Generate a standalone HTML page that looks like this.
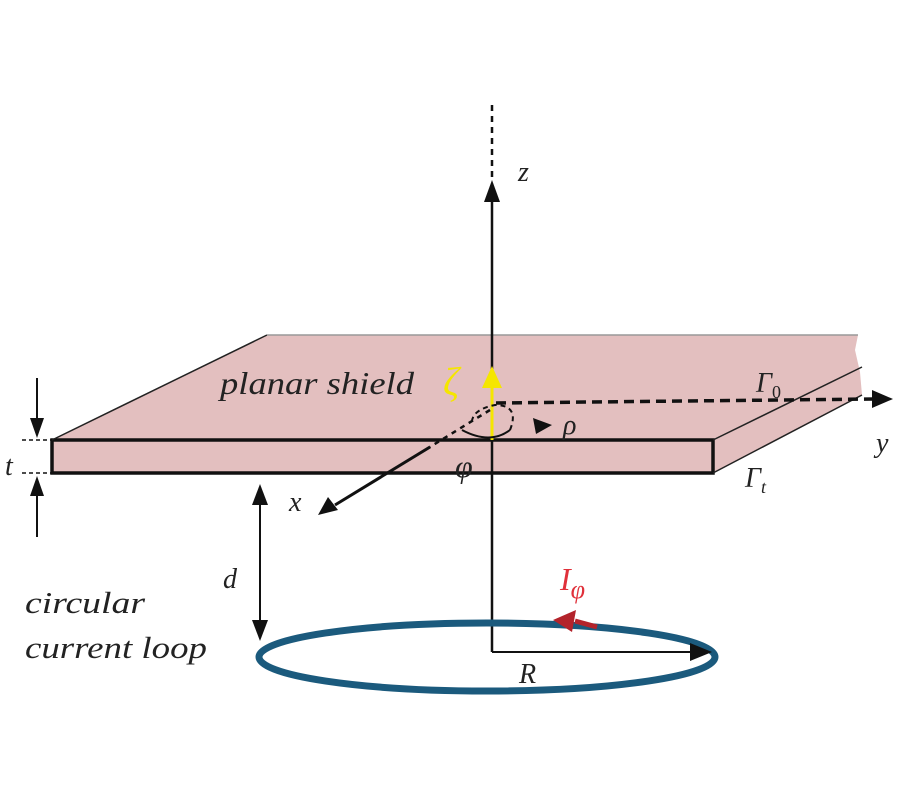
<!DOCTYPE html>
<html><head><style>body{margin:0;background:#fff}svg{display:block}</style></head><body>
<svg width="900" height="800" viewBox="0 0 900 800" xmlns="http://www.w3.org/2000/svg" font-family="Liberation Serif, serif" font-style="italic">
<!-- slab -->
<polygon points="52,440 267,335 858,335 855,350 860,372 862,395 713,473 713,440" fill="#e3bfbf" stroke="none"/>
<rect x="52" y="440" width="661" height="33" fill="#e3bfbf" stroke="#111" stroke-width="3.5"/>
<line x1="52" y1="440" x2="267" y2="335" stroke="#222" stroke-width="1.5"/>
<line x1="267" y1="335" x2="858" y2="335" stroke="#999" stroke-width="1.5"/>
<line x1="713" y1="440" x2="862" y2="367" stroke="#222" stroke-width="1.5"/>
<line x1="713" y1="473" x2="862" y2="395" stroke="#222" stroke-width="1.5"/>
<!-- z axis -->
<line x1="492" y1="105" x2="492" y2="180" stroke="#111" stroke-width="2.5" stroke-dasharray="6,5"/>
<line x1="492" y1="200" x2="492" y2="652" stroke="#111" stroke-width="2.5"/>
<polygon points="492,180 484,202 500,202" fill="#111"/>
<!-- yellow -->
<line x1="492" y1="440" x2="492" y2="385" stroke="#f5e600" stroke-width="3"/>
<polygon points="492,366 482,388 502,388" fill="#f5e600"/>
<!-- y axis -->
<line x1="496" y1="403" x2="875" y2="399" stroke="#111" stroke-width="3.5" stroke-dasharray="10,6"/>
<polygon points="893,399 872,390 872,408" fill="#111"/>
<!-- x axis -->
<line x1="490" y1="410" x2="430" y2="447" stroke="#111" stroke-width="2.5" stroke-dasharray="5,5"/>
<line x1="430" y1="447" x2="335" y2="505" stroke="#111" stroke-width="3"/>
<polygon points="318,515 328,497 338,510" fill="#111"/>
<!-- phi arc -->
<path d="M462,430 Q490,445 510,430" fill="none" stroke="#111" stroke-width="2"/>
<path d="M510,430 Q520,405 495,405 Q470,410 472,425" fill="none" stroke="#111" stroke-width="2" stroke-dasharray="5,4"/>
<polygon points="552,425 533,418 536,434" fill="#111"/>
<!-- t dims -->
<line x1="37" y1="378" x2="37" y2="420" stroke="#111" stroke-width="2"/>
<polygon points="37,438 30,418 44,418" fill="#111"/>
<line x1="37" y1="495" x2="37" y2="537" stroke="#111" stroke-width="2"/>
<polygon points="37,476 30,496 44,496" fill="#111"/>
<line x1="22" y1="440" x2="52" y2="440" stroke="#111" stroke-width="1.5" stroke-dasharray="4,3"/>
<line x1="22" y1="473" x2="52" y2="473" stroke="#111" stroke-width="1.5" stroke-dasharray="4,3"/>
<!-- d -->
<line x1="260" y1="500" x2="260" y2="625" stroke="#111" stroke-width="2"/>
<polygon points="260,484 252,505 268,505" fill="#111"/>
<polygon points="260,641 252,620 268,620" fill="#111"/>
<!-- loop -->
<ellipse cx="487" cy="657" rx="228" ry="34" fill="none" stroke="#1b5a7d" stroke-width="7"/>
<line x1="492" y1="652" x2="695" y2="652" stroke="#111" stroke-width="2"/>
<polygon points="712,652 690,643 690,661" fill="#111"/>
<line x1="597" y1="627" x2="575" y2="621" stroke="#b3232b" stroke-width="5"/>
<polygon points="553,620 576,610 572,632" fill="#b3232b"/>
<!-- labels -->
<g font-size="28" fill="#222">
<text x="518" y="181">z</text>
<text x="220" y="394" font-size="32" textLength="194" lengthAdjust="spacingAndGlyphs">planar shield</text>
<text x="756" y="392">Γ<tspan font-size="18" font-style="normal" dy="6">0</tspan></text>
<text x="876" y="452">y</text>
<text x="745" y="487">Γ<tspan font-size="18" dy="6">t</tspan></text>
<text x="289" y="511">x</text>
<text x="563" y="434">ρ</text>
<text x="455" y="477" font-size="32">φ</text>
<text x="5" y="475">t</text>
<text x="223" y="588">d</text>
<text x="519" y="683">R</text>
<text x="25" y="613" font-size="31" textLength="120" lengthAdjust="spacingAndGlyphs">circular</text>
<text x="25" y="658" font-size="31" textLength="182" lengthAdjust="spacingAndGlyphs">current loop</text>
<text x="560" y="590" fill="#e0303a" font-size="32">I<tspan font-size="26" dy="8">φ</tspan></text>
<text x="443" y="395" fill="#f5e600" font-size="40">ζ</text>
</g>
</svg>
</body></html>
